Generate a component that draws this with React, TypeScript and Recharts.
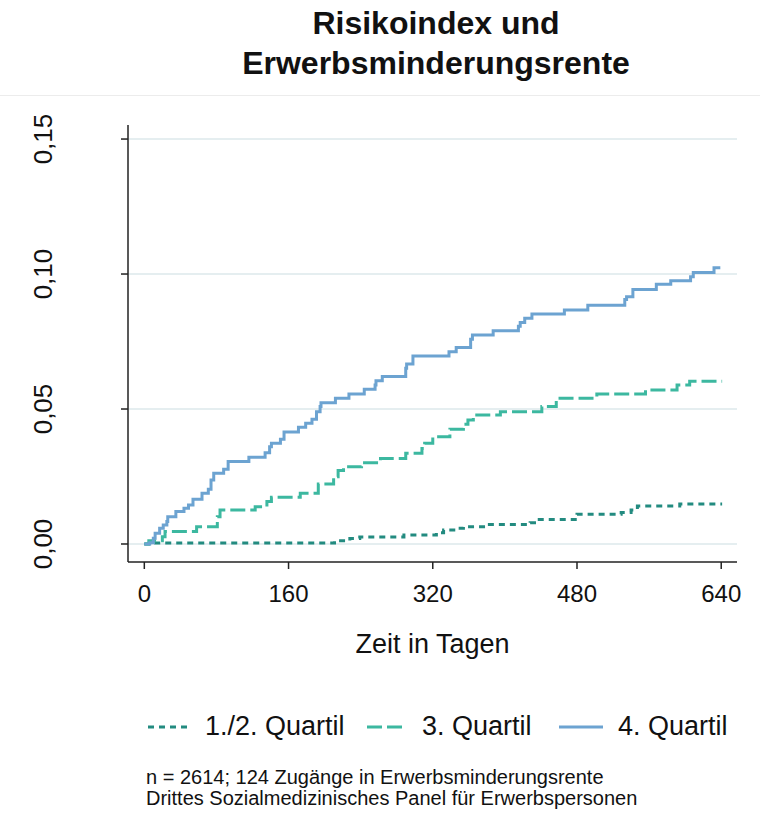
import React from "react"
import { CartesianGrid, Legend, Line, LineChart, XAxis, YAxis } from "recharts"

// Kumulierte Inzidenz der EM-Rente je Risikoindex-Gruppe
const q12Days = [0, 11, 211, 228, 239, 288, 324, 332, 345, 354, 378, 428, 435, 480, 529, 540, 547, 594, 641]
const q12Risk = [0, 0.0004, 0.0012, 0.002, 0.0026, 0.0033, 0.0042, 0.0052, 0.0058, 0.0064, 0.0072, 0.0079, 0.0091, 0.011, 0.0117, 0.0126, 0.0141, 0.0148, 0.0148]

const q3Days = [0, 5, 20, 23, 58, 81, 84, 123, 136, 141, 173, 193, 210, 215, 221, 241, 262, 290, 308, 311, 320, 339, 354, 359, 365, 395, 441, 457, 502, 556, 591, 605, 641]
const q3Risk = [0, 0.0012, 0.0027, 0.0046, 0.0064, 0.0101, 0.0126, 0.0138, 0.0157, 0.0173, 0.0188, 0.0222, 0.0249, 0.0272, 0.0286, 0.0301, 0.0317, 0.0336, 0.0354, 0.0373, 0.0397, 0.0425, 0.0444, 0.0459, 0.0478, 0.049, 0.0509, 0.054, 0.0556, 0.057, 0.0589, 0.0603, 0.0603]

const q4Days = [0, 6, 10, 12, 17, 21, 25, 26, 35, 44, 49, 54, 64, 71, 74, 77, 88, 93, 116, 134, 139, 141, 151, 155, 171, 179, 186, 191, 195, 196, 212, 227, 244, 256, 257, 264, 290, 291, 298, 338, 346, 362, 364, 387, 415, 417, 422, 430, 466, 492, 533, 535, 542, 568, 584, 606, 609, 632, 639]
const q4Risk = [0, 0.0005, 0.0021, 0.004, 0.0058, 0.007, 0.0083, 0.0101, 0.012, 0.0132, 0.0144, 0.0166, 0.0188, 0.0203, 0.0237, 0.0262, 0.0277, 0.0306, 0.0321, 0.0338, 0.036, 0.0373, 0.0388, 0.0415, 0.0432, 0.0447, 0.0462, 0.049, 0.0509, 0.0523, 0.054, 0.0556, 0.0573, 0.0589, 0.0605, 0.062, 0.0651, 0.0667, 0.0696, 0.0712, 0.0728, 0.0758, 0.0774, 0.079, 0.0807, 0.082, 0.0836, 0.0852, 0.0867, 0.0884, 0.0906, 0.0916, 0.0943, 0.0962, 0.0975, 0.099, 0.1006, 0.1023, 0.1023]

const xTicks = [0, 160, 320, 480, 640]
const yTicks = [0, 0.05, 0.1, 0.15]

const font = "'Liberation Sans', Arial, sans-serif"

const toRows = (days: number[], risk: number[]) => days.map((d, i) => ({ day: d, risk: risk[i] }))

const series = [
  { name: "1./2. Quartil", data: toRows(q12Days, q12Risk), color: "#238b80", dash: "6 5", legendLeft: 148, legendW: 42 },
  { name: "3. Quartil", data: toRows(q3Days, q3Risk), color: "#3cb8a0", dash: "15 5", legendLeft: 367, legendW: 40 },
  { name: "4. Quartil", data: toRows(q4Days, q4Risk), color: "#6ca3d1", dash: undefined, legendLeft: 559, legendW: 44 },
]

const YTick = (props: any) => {
  const { x, y, payload } = props
  const tx = x - 67
  return (
    <text
      x={tx}
      y={y}
      transform={`rotate(-90, ${tx}, ${y})`}
      textAnchor="middle"
      fontSize={26}
      fontFamily={font}
      fill="#111"
    >
      {payload.value.toFixed(2).replace(".", ",")}
    </text>
  )
}

const renderLegend = () => (
  <div style={{ position: "relative", width: 760, height: 40, fontFamily: font, fontSize: 27, color: "#111" }}>
    {series.map((s) => (
      <React.Fragment key={s.name}>
        <svg style={{ position: "absolute", left: s.legendLeft, top: 18 }} width={s.legendW} height={4}>
          <line x1={0} y1={2} x2={s.legendW} y2={2} stroke={s.color} strokeWidth={3} strokeDasharray={s.dash} />
        </svg>
        <span style={{ position: "absolute", left: s.legendLeft + s.legendW + 15, top: 4, whiteSpace: "nowrap", lineHeight: "30px" }}>
          {s.name}
        </span>
      </React.Fragment>
    ))}
  </div>
)

export default function App() {
  return (
    <div style={{ position: "absolute", left: 0, top: 0, width: 760, height: 821, background: "#fff", fontFamily: font }}>
      <div
        style={{
          position: "absolute",
          left: 0,
          top: 3,
          width: 872,
          textAlign: "center",
          fontWeight: "bold",
          fontSize: 32,
          lineHeight: "40px",
          color: "#111",
        }}
      >
        Risikoindex und
        <br />
        Erwerbsminderungsrente
      </div>
      <div style={{ position: "absolute", left: 0, top: 95, width: 760, height: 1, background: "#ececec" }} />

      <LineChart width={760} height={821} margin={{ top: 125, right: 23, bottom: 199, left: 0 }}>
        <CartesianGrid vertical={false} syncWithTicks stroke="#e5eef0" strokeWidth={2} />
        <XAxis
          type="number"
          dataKey="day"
          domain={[-18.1, 657.5]}
          ticks={xTicks}
          allowDataOverflow
          height={60}
          tickSize={7}
          tickMargin={16}
          stroke="#222"
          strokeWidth={1.5}
          tick={{ fontSize: 24, fontFamily: font, fill: "#111" }}
          label={{ value: "Zeit in Tagen", position: "bottom", offset: 12, fontSize: 27, fontFamily: font, fill: "#111" }}
        />
        <YAxis
          type="number"
          domain={[-0.00667, 0.1552]}
          ticks={yTicks}
          allowDataOverflow
          width={128}
          tickSize={7}
          stroke="#222"
          strokeWidth={1.5}
          tick={<YTick />}
        />
        {series.map((s) => (
          <Line
            key={s.name}
            data={s.data}
            dataKey="risk"
            name={s.name}
            type="stepAfter"
            stroke={s.color}
            strokeWidth={3}
            strokeDasharray={s.dash}
            dot={false}
            activeDot={false}
            isAnimationActive={false}
          />
        ))}
        <Legend
          layout="horizontal"
          verticalAlign="middle"
          align="center"
          content={renderLegend}
          wrapperStyle={{ top: 707, left: 0, width: 760 }}
        />
      </LineChart>

      <div style={{ position: "absolute", left: 146, top: 767, fontSize: 20, lineHeight: "20px", color: "#111", whiteSpace: "nowrap" }}>
        n = 2614; 124 Zugänge in Erwerbsminderungsrente
      </div>
      <div style={{ position: "absolute", left: 146, top: 788, fontSize: 20, lineHeight: "20px", color: "#111", whiteSpace: "nowrap" }}>
        Drittes Sozialmedizinisches Panel für Erwerbspersonen
      </div>
    </div>
  )
}
